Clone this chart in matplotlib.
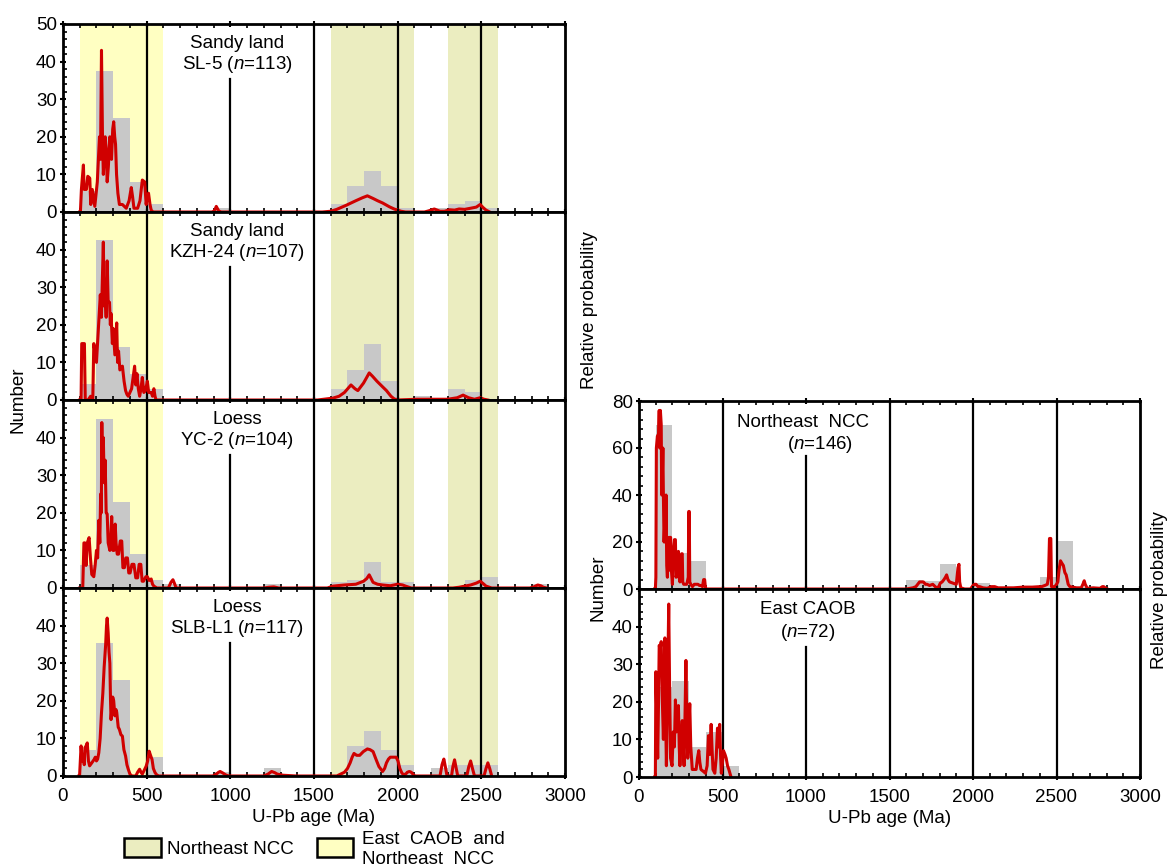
import matplotlib
matplotlib.use("Agg")
import matplotlib.pyplot as plt
from matplotlib.patches import Rectangle
from matplotlib.ticker import MultipleLocator

plt.rcParams['font.family'] = ['Liberation Sans', 'DejaVu Sans']
plt.rcParams['mathtext.fontset'] = 'custom'
plt.rcParams['mathtext.it'] = 'Liberation Sans:italic'
plt.rcParams['mathtext.rm'] = 'Liberation Sans'

# ---------------- data ----------------
# Sandy land SL-5
sl5_bins = [100, 200, 300, 400, 500, 900, 1600, 1700, 1800, 1900, 2000, 2200, 2300, 2400, 2500]
sl5_counts = [5.5, 37.5, 25, 8, 2, 1, 2, 7, 11, 7, 1, 1, 2, 3, 1]
sl5_age = [100, 104, 110, 122, 126, 131, 140, 148, 160, 166, 175, 190, 205, 218, 224, 230, 236, 241, 247, 252,
           258, 264, 271, 280, 290, 297, 303, 309, 314, 320, 328, 337, 355, 378, 395, 408, 416, 424, 446, 460,
           474, 488, 497, 503, 511, 520, 527, 538,
           890, 905, 916, 930, 945,
           1550, 1600, 1636, 1693, 1750, 1790, 1819, 1853, 1880, 1910, 1950, 1979, 2020, 2047,
           2160, 2185, 2219, 2253, 2280, 2310, 2340, 2367, 2400, 2436, 2470, 2493, 2510, 2528, 2550]
sl5_prob = [0, 0, 6, 12.5, 6, 6, 6, 9.5, 9, 2, 6, 1.5, 8, 20, 14, 43, 20, 10, 15, 20,
            17, 8, 12, 20, 14, 22, 24, 20, 18, 10, 5, 2, 2, 1, 3, 6.5, 4, 1, 1, 3,
            8.5, 8, 2, 4, 5, 2, 0.5, 0,
            0, 0.3, 1.5, 0.3, 0,
            0, 0.2, 0.7, 1.8, 3, 3.8, 4.3, 3.6, 3, 2.4, 1.4, 0.8, 0.2, 0,
            0, 0.3, 0.8, 0.2, 0.2, 0.6, 0.5, 0.8, 0.7, 1.0, 1.3, 2.0, 1.2, 0.5, 0]

# Sandy land KZH-24
kzh_bins = [100, 200, 300, 400, 500, 1600, 1700, 1800, 1900, 2100, 2300, 2400]
kzh_counts = [4.3, 42.5, 14, 7, 3, 3, 8, 15, 5, 1, 3, 2]
kzh_age = [100, 108, 112, 120, 128, 133, 150, 165, 178, 184, 200, 214, 223, 230, 234, 241, 246, 252, 258, 264,
           270, 278, 283, 287, 295, 300, 310, 321, 326, 332, 340, 355, 365, 374, 382, 390, 410, 428, 435, 442,
           450, 458, 466, 474, 483, 493, 504, 512, 527, 535, 543, 550, 556,
           1521, 1613, 1650, 1682, 1721, 1745, 1762, 1796, 1815, 1830, 1850, 1876, 1910, 1933, 1960, 1979, 2000,
           2116, 2250, 2299, 2356, 2391, 2424, 2459, 2493, 2516, 2539]
kzh_prob = [0, 0, 15, 15, 15, 0, 0, 1, 0, 15, 10, 21, 28, 22, 30, 42, 25, 28, 22, 37,
            26, 26, 20, 23, 15, 19, 12, 20.5, 10, 13, 8, 9, 5, 2.5, 1.5, 1, 3, 9, 4, 7,
            3, 1, 3, 6, 2, 2.5, 5, 2, 2, 1, 3, 1, 0,
            0, 0.5, 1, 2, 4, 3, 2.5, 4.5, 6, 7.2, 6.3, 5, 3.5, 2.5, 1, 0.3, 0,
            0.2, 0.2, 0.2, 0.6, 1.3, 0.6, 0.2, 0.6, 0.2, 0]

# Loess YC-2
yc2_bins = [100, 200, 300, 400, 500, 600, 1200, 1600, 1700, 1800, 1900, 2000, 2400, 2500, 2800]
yc2_counts = [6, 45, 23, 9, 2, 1, 1, 1.5, 2, 7, 1.5, 1.5, 2, 3, 1]
yc2_age = [100, 118, 125, 131, 138, 145, 156, 164, 172, 184, 192, 200, 207, 214, 220, 225, 229, 232, 236, 241,
           246, 252, 258, 264, 270, 280, 286, 291, 298, 305, 312, 317, 324, 332, 342, 351, 358, 367, 375, 385,
           393, 401, 412, 424, 435, 446, 455, 465, 473, 481, 495, 504, 515, 527, 535, 543, 561,
           630, 645, 657, 668, 676,
           1200, 1230, 1260, 1290,
           1580, 1613, 1682, 1750, 1796, 1815, 1830, 1853, 1880, 1910, 1956, 2000, 2030, 2047, 2081,
           2330, 2367, 2436, 2470, 2493, 2510, 2528, 2562,
           2790, 2814, 2837, 2855, 2871, 2890]
yc2_prob = [0, 0, 12, 12, 6, 12, 13.4, 8, 3.6, 3, 6, 10, 8, 18, 12, 25, 20, 44, 30, 40,
            28, 34, 20, 19.7, 12, 10, 14, 19, 10, 10, 17, 12, 9, 9, 12.5, 12.5, 5.4, 5.4, 8, 8,
            4, 4, 6.3, 6.3, 2.7, 2.7, 6.3, 6.3, 1.8, 1.8, 3, 3, 2, 2.4, 1, 0.5, 0,
            0, 1.5, 2.2, 1, 0,
            0, 0.2, 0.3, 0,
            0, 0.5, 0.8, 1, 1.8, 2.5, 3.5, 1.5, 1, 0.8, 0.6, 1.0, 0.8, 0.5, 0,
            0, 0.2, 0.8, 1.3, 1.8, 1.2, 0.5, 0,
            0, 0.3, 0.8, 0.6, 0.2, 0]

# Loess SLB-L1
slb_bins = [100, 200, 300, 500, 900, 1200, 1700, 1800, 1900, 2000, 2200, 2300, 2400, 2500]
slb_counts = [7, 35.5, 25.5, 5, 1, 2, 8, 12, 7, 3, 2, 3, 3, 3]
slb_age = [95, 99, 108, 115, 122, 127, 131, 138, 145, 152, 159, 172, 186, 193, 200, 207, 214, 222, 230, 238,
           246, 255, 260, 264, 270, 275, 280, 284, 287, 292, 297, 303, 310, 316, 321, 330, 337, 346, 355, 364,
           374, 382, 390, 400, 412, 435, 446, 458, 466, 474, 485, 497, 506, 515, 523, 532, 540, 550, 560, 572,
           895, 916, 930, 939, 955, 972, 990,
           1200, 1225, 1247, 1265, 1281, 1316, 1396,
           1636, 1682, 1700, 1716, 1728, 1739, 1755, 1773, 1795, 1819, 1835, 1853, 1870, 1888, 1910, 1922, 1933,
           1945, 1956, 1975, 1991, 2002, 2013, 2025, 2036, 2050, 2058, 2070, 2081, 2095, 2104,
           2253, 2265, 2276, 2287, 2295, 2322, 2330, 2340, 2350, 2359, 2413, 2425, 2436, 2447, 2459,
           2516, 2528, 2539, 2550, 2562]
slb_prob = [0, 0, 8, 4, 5.3, 3, 7.5, 8, 8.8, 4, 2.7, 3.5, 4.4, 5, 4, 4.5, 6.2, 10, 16.8, 22,
            29, 35, 40, 42, 38, 33, 30, 20, 15, 18, 21, 20, 16, 17.7, 17, 13, 12.4, 11, 10.6, 7,
            5.3, 3, 1.8, 0.5, 0, 0, 1, 1.8, 1, 0.5, 1.5, 2.6, 4, 6.6, 5.5, 4.4, 2, 0.9, 0.3, 0,
            0, 0.5, 1.0, 1.2, 0.8, 0.3, 0,
            0, 0.5, 1.2, 0.9, 0.5, 0.2, 0,
            0, 1, 2, 3.5, 5, 6, 5.5, 5.5, 6.5, 7.2, 7, 6.5, 4.5, 2.5, 1.2, 2, 3.5,
            4.5, 5, 5, 5, 4, 2, 0.8, 0.3, 0.6, 1.0, 1.2, 1.0, 0.3, 0,
            0, 3, 4.5, 2, 0, 0, 2.5, 4.3, 2, 0, 0, 2.5, 4, 2, 0,
            0, 2, 3.5, 2, 0]

# Northeast NCC (n=146)
ncc_bins = [100, 200, 300, 1600, 1700, 1800, 2000, 2400, 2500, 2600, 2700]
ncc_counts = [70, 15.5, 12, 4, 3.5, 10.5, 2.5, 5, 20.5, 1, 1]
ncc_age = [94, 98, 101, 104, 110, 117, 121, 124, 128, 133, 136, 139, 143, 146, 150, 155, 158, 162, 166, 170,
           175, 180, 184, 189, 194, 200, 204, 207, 212, 218, 222, 225, 230, 236, 240, 245, 250, 255, 259, 262,
           268, 275, 286, 295, 298, 301, 304, 310, 320, 331, 340, 353, 362, 371, 380, 387, 393, 398, 405,
           1600, 1640, 1658, 1680, 1703, 1715, 1725, 1740, 1759, 1781, 1795, 1804, 1815, 1826, 1835, 1842, 1850,
           1860, 1880, 1900, 1910, 1916, 1920, 1927, 1950,
           1985, 2000, 2010, 2018, 2030, 2040, 2060, 2085, 2110, 2130, 2150, 2200, 2243, 2300, 2355, 2400, 2411,
           2430, 2445, 2452, 2458, 2466, 2470, 2490, 2500, 2508, 2515, 2524, 2532, 2541, 2550, 2558, 2570, 2580,
           2620, 2648, 2658, 2666, 2672, 2684, 2720, 2760, 2775, 2783, 2795, 2805]
ncc_prob = [0, 0, 5, 60, 65, 66, 76, 60, 76, 70, 40, 45, 60, 40, 20, 30, 20, 40, 10, 5,
            20, 22, 8, 22, 8, 2, 10, 17, 21, 21, 5, 6, 15, 16, 5, 3, 10, 15, 15, 3,
            2, 2, 2, 5, 33, 33, 3, 2, 1, 2, 2, 2, 1.5, 1.5, 1, 4, 4, 0.5, 0,
            0, 0.5, 1, 3, 3, 2, 2, 1.5, 2, 0.5, 1, 2.5, 3, 4, 5, 6, 4,
            3, 2.5, 2, 9, 10.5, 3, 0.5, 0,
            0, 1.5, 2, 2, 1, 1, 0.5, 0.3, 1, 1, 0.5, 0.5, 0.5, 0.8, 0.8, 1, 1,
            1.5, 2, 5, 21.5, 21.5, 1, 1, 2, 3, 8, 12, 11, 10, 7, 6, 2, 1,
            0.5, 0.5, 2, 3.5, 2, 0.3, 0.5, 0.3, 1, 1, 0.3, 0]

# East CAOB (n=72)
caob_bins = [100, 200, 300, 400, 500]
caob_counts = [24, 25.5, 8, 12, 3]
caob_age = [94, 98, 101, 107, 112, 117, 121, 127, 133, 140, 146, 151, 155, 160, 164, 170, 178, 183, 189, 198,
            205, 212, 218, 225, 236, 241, 245, 252, 259, 265, 270, 275, 281, 286, 292, 297, 304, 310, 319, 330,
            342, 350, 358, 364, 371, 385, 398, 408, 416, 424, 432, 437, 443, 454, 462, 470, 477, 483, 488, 493,
            500, 506, 515, 522, 530, 538, 551]
caob_prob = [0, 0, 28, 15, 5, 20, 35, 34, 36, 20, 10, 25, 37, 15, 3, 20, 46, 25, 5, 3,
             12, 8, 20.5, 12, 19, 8, 3, 10, 15, 8, 3, 15, 31, 15, 5, 12, 19.5, 8, 2, 2,
             2, 5, 7, 4, 2, 1.5, 1, 3, 11, 6, 14, 8, 2, 1, 5, 13, 8, 14, 6, 1,
             4, 7, 6, 5, 3, 2, 0]

left_panels = [
    ("Sandy land", "SL-5 ($n$=113)", sl5_bins, sl5_counts, sl5_age, sl5_prob),
    ("Sandy land", "KZH-24 ($n$=107)", kzh_bins, kzh_counts, kzh_age, kzh_prob),
    ("Loess", "YC-2 ($n$=104)", yc2_bins, yc2_counts, yc2_age, yc2_prob),
    ("Loess", "SLB-L1 ($n$=117)", slb_bins, slb_counts, slb_age, slb_prob),
]
right_panels = [
    ("Northeast  NCC", "($n$=146)", ncc_bins, ncc_counts, ncc_age, ncc_prob),
    ("East CAOB", "($n$=72)", caob_bins, caob_counts, caob_age, caob_prob),
]

yellow_band = (100, 600)
olive_bands = [(1600, 2100), (2300, 2600)]
ref_lines = [500, 1500, 2000, 2500]

# ---------------- style ----------------
YELLOW = "#FFFFC2"
OLIVE = "#EBEDC0"
GRAY = "#C8C8C8"
RED = "#D00000"
FS = 13.5

W, H = 1169, 868
fig = plt.figure(figsize=(W / 100, H / 100), dpi=100)


def rect(x0, y_top, w, h):
    return [x0 / W, 1 - (y_top + h) / H, w / W, h / H]


def style_axes(ax, ymax, major, minor, show_top_label, show_x):
    ax.set_xlim(0, 3000)
    ax.set_ylim(0, ymax)
    ticks = list(range(0, ymax + 1, major))
    if not show_top_label:
        ticks = [t for t in ticks if t < ymax]
    ax.set_yticks(ticks)
    ax.yaxis.set_minor_locator(MultipleLocator(minor))
    ax.set_xticks(range(0, 3001, 500))
    ax.xaxis.set_minor_locator(MultipleLocator(100))
    for s in ax.spines.values():
        s.set_linewidth(2)
    ax.tick_params(axis='both', which='major', direction='inout', length=5, width=1.5,
                   labelsize=FS, top=True, right=False)
    ax.tick_params(axis='y', which='major', pad=2)
    ax.tick_params(axis='x', which='major', pad=6)
    ax.tick_params(axis='both', which='minor', direction='in', length=3, width=1.2, top=True)
    ax.tick_params(axis='x', labelbottom=show_x)


def draw_panel(ax, panel, ymax, bands, text_x1, text_x2, ty1, ty2, partial_top):
    line1, line2, bins, counts, age, prob = panel
    if bands:
        ax.axvspan(*yellow_band, color=YELLOW, lw=0, zorder=0)
        for b in olive_bands:
            ax.axvspan(*b, color=OLIVE, lw=0, zorder=0)
    ax.bar(bins, counts, width=100, align='edge', color=GRAY, lw=0, zorder=1)
    for x in ref_lines:
        ax.axvline(x, color='black', lw=1.6, zorder=2.1)
    ax.axvline(1000, ymin=0, ymax=partial_top, color='black', lw=1.6, zorder=2.1)
    ax.plot(age, prob, color=RED, lw=2.2, zorder=2.2)
    ax.text(text_x1, ty1, line1, transform=ax.get_xaxis_transform(), ha='center', va='center', fontsize=FS)
    ax.text(text_x2, ty2, line2, transform=ax.get_xaxis_transform(), ha='center', va='center', fontsize=FS)


# left column
for i, p in enumerate(left_panels):
    ax = fig.add_axes(rect(63, 24 + 188 * i, 502, 188))
    draw_panel(ax, p, 50, True, 1040, 1040, 0.897, 0.785, 0.705)
    style_axes(ax, 50, 10, 2, i == 0, i == 3)
    if i == 3:
        ax.set_xlabel("U-Pb age (Ma)", fontsize=FS, labelpad=3)

# right column
ax = fig.add_axes(rect(639, 401, 501, 188))
draw_panel(ax, right_panels[0], 80, False, 982, 1084, 0.885, 0.771, 0.709)
style_axes(ax, 80, 20, 4, True, False)
ax = fig.add_axes(rect(639, 589, 501, 188))
draw_panel(ax, right_panels[1], 50, False, 1011, 1011, 0.892, 0.768, 0.69)
style_axes(ax, 50, 10, 2, False, True)
ax.set_xlabel("U-Pb age (Ma)", fontsize=FS, labelpad=3)

# axis titles
fig.text(18 / W, 1 - 400 / H, "Number", rotation=90, ha='center', va='center', fontsize=FS)
fig.text(590 / W, 1 - 310 / H, "Relative probability", rotation=90, ha='center', va='center', fontsize=FS)
fig.text(598 / W, 1 - 588 / H, "Number", rotation=90, ha='center', va='center', fontsize=FS)
fig.text(1160 / W, 1 - 590 / H, "Relative probability", rotation=90, ha='center', va='center', fontsize=FS)

# legend
fig.patches.append(Rectangle((124 / W, 1 - 857 / H), 37 / W, 19 / H, transform=fig.transFigure,
                             facecolor=OLIVE, edgecolor='black', lw=1.8))
fig.text(167 / W, 1 - 849 / H, "Northeast NCC", ha='left', va='center', fontsize=FS)
fig.patches.append(Rectangle((317 / W, 1 - 857 / H), 36 / W, 19 / H, transform=fig.transFigure,
                             facecolor=YELLOW, edgecolor='black', lw=1.8))
fig.text(362 / W, 1 - 840 / H, "East  CAOB  and", ha='left', va='center', fontsize=FS)
fig.text(362 / W, 1 - 860 / H, "Northeast  NCC", ha='left', va='center', fontsize=FS)

fig.savefig("out.png", dpi=100)
